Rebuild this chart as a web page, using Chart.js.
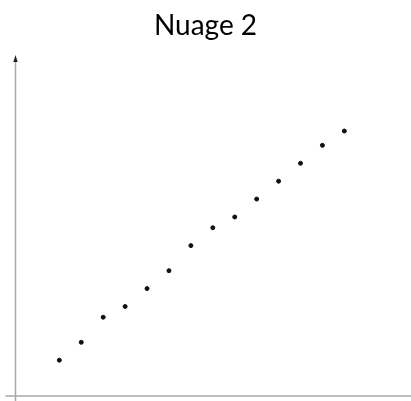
<!DOCTYPE html>
<html><head><meta charset="utf-8">
<script src="https://cdn.jsdelivr.net/npm/chart.js@4"></script>
<style>html,body{margin:0;padding:0;background:#fff}canvas{display:block}</style>
</head><body>
<canvas id="c" width="411" height="401"></canvas>
<script>
const titleText = "Nuage 2";
const xValues = [2,3,4,5,6,7,8,9,10,11,12,13,14,15];
const yValues = [10,15,22,25,30,35,42,47,50,55,60,65,70,74];
const xRange = [-0.707, 18.04];
const yRange = [0, 94.4];

const axesPlugin = {
  id: 'axesPlugin',
  beforeDatasetsDraw(chart) {
    const {ctx, scales:{x, y}} = chart;
    const x0 = x.getPixelForValue(0), y0 = y.getPixelForValue(0);
    const yTop = y.getPixelForValue(yRange[1]);
    ctx.save();
    ctx.strokeStyle = '#a8a8a8';
    ctx.lineWidth = 1.5;
    ctx.beginPath();
    ctx.moveTo(x0 - 10, y0); ctx.lineTo(chart.width, y0);
    ctx.moveTo(x0, chart.height); ctx.lineTo(x0, yTop + 4);
    ctx.stroke();
    ctx.fillStyle = '#222';
    ctx.beginPath();
    ctx.moveTo(x0, yTop - 3); ctx.lineTo(x0 - 2.2, yTop + 4); ctx.lineTo(x0 + 2.2, yTop + 4);
    ctx.closePath(); ctx.fill();
    ctx.restore();
  }
};

new Chart(document.getElementById('c'), {
  type: 'scatter',
  data: { datasets: [{
    data: xValues.map((v,i)=>({x:v, y:yValues[i]})),
    backgroundColor: '#111', borderColor: '#111',
    pointRadius: 2, pointHoverRadius: 2
  }]},
  options: {
    responsive: false, animation: false,
    layout: { autoPadding: false, padding: { left: 0, right: 0, top: 0, bottom: 5 } },
    plugins: {
      legend: { display: false }, tooltip: { enabled: false },
      title: { display: true, text: titleText, color: '#000',
        font: { family: 'Lato', size: 28, weight: 'normal' }, padding: { top: 9, bottom: 15.4 } }
    },
    scales: {
      x: { type: 'linear', min: xRange[0], max: xRange[1], display: false },
      y: { type: 'linear', min: yRange[0], max: yRange[1], display: false }
    }
  },
  plugins: [axesPlugin]
});
</script>
</body></html>
